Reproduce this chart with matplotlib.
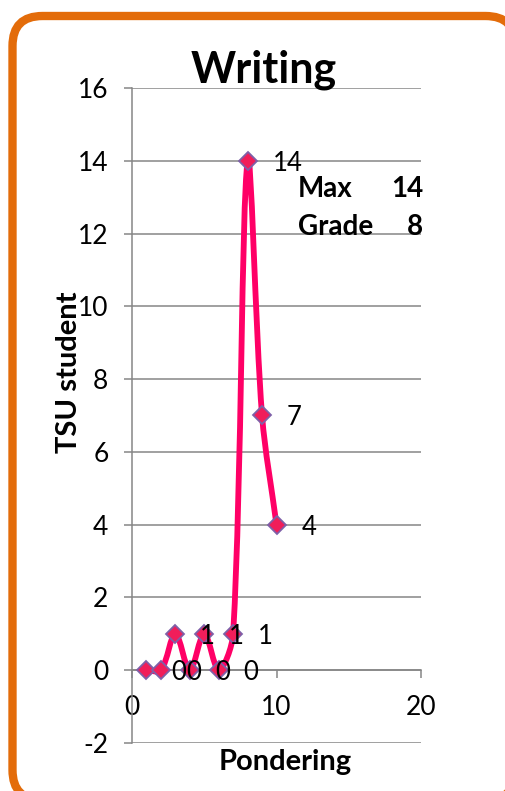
import numpy as np
import matplotlib
matplotlib.use("Agg")
import matplotlib.pyplot as plt
from matplotlib.path import Path
from matplotlib.patches import PathPatch, FancyBboxPatch

plt.rcParams["axes.unicode_minus"] = False

# Score counts per grade
grades = [1, 2, 3, 4, 5, 6, 7, 8, 9, 10]
students = [0, 0, 1, 0, 1, 0, 1, 14, 7, 4]
x_ticks = [0, 10, 20]
y_ticks = [-2, 0, 2, 4, 6, 8, 10, 12, 14, 16]
title = "Writing"
x_label = "Pondering"
y_label = "TSU student"
summary = [("Max", "14"), ("Grade", "8")]

W, H = 505, 791
fig = plt.figure(figsize=(W / 100, H / 100), dpi=100)
fig.patch.set_facecolor("white")

FONT = "Lato"
GRID = "#868686"
LINE = "#FF0066"
FILL = "#F01E5A"
EDGE = "#7E60A8"
ORANGE = "#E36C0A"

# Rounded orange frame drawn in pixel units on a background layer
bg = fig.add_axes([0, 0, 1, 1], zorder=0)
bg.set_xlim(0, W)
bg.set_ylim(H, 0)
bg.axis("off")
bg.add_patch(FancyBboxPatch((12.5, 16), 503, 784,
                            boxstyle="round,pad=0,rounding_size=30",
                            fc="white", ec=ORANGE, lw=6, clip_on=False))

L, R, T, B = 132, 421, 88, 743
ax = fig.add_axes([L / W, 1 - B / H, (R - L) / W, (B - T) / H], zorder=1)
ax.set_facecolor("none")
ax.set_xlim(0, 20)
ax.set_ylim(-2, 16)
ax.set_xticks(x_ticks)
ax.set_yticks(y_ticks)

for s in ("top", "right"):
    ax.spines[s].set_visible(False)
ax.spines["left"].set_position(("data", 0))
ax.spines["bottom"].set_position(("data", 0))
for s in ("left", "bottom"):
    ax.spines[s].set_color(GRID)
    ax.spines[s].set_linewidth(1.1)

ax.yaxis.grid(True, color=GRID, linewidth=1.1)
ax.set_axisbelow(True)
ax.tick_params(axis="y", direction="out", length=6, width=1.1, color=GRID,
               pad=11, labelsize=19, labelcolor="black")
ax.tick_params(axis="x", direction="out", length=6, width=1.1, color=GRID,
               pad=12, labelsize=19, labelcolor="black")
for lab in ax.get_xticklabels() + ax.get_yticklabels():
    lab.set_fontfamily(FONT)

# Smoothed line: cubic Bezier segments whose tangents are weighted by the
# on-screen lengths of the neighbouring segments (keeps short hops from
# overshooting next to long ones)
sx = (R - L) / 20.0
sy = (B - T) / 18.0
pts = np.column_stack([grades, students]).astype(float)
scr = pts * np.array([sx, sy])
n = len(pts)
seg = np.hypot(*np.diff(scr, axis=0).T)

def tangent(i, side):
    if i == 0:
        return (pts[1] - pts[0]) / 3.0
    if i == n - 1:
        return (pts[-1] - pts[-2]) / 3.0
    d_prev, d_next = seg[i - 1], seg[i]
    w = (d_next if side == "out" else d_prev) / (d_prev + d_next)
    return (pts[i + 1] - pts[i - 1]) * w / 3.0

verts = [tuple(pts[0])]
codes = [Path.MOVETO]
for i in range(n - 1):
    c1 = pts[i] + tangent(i, "out")
    c2 = pts[i + 1] - tangent(i + 1, "in")
    verts += [tuple(c1), tuple(c2), tuple(pts[i + 1])]
    codes += [Path.CURVE4] * 3
ax.add_patch(PathPatch(Path(verts, codes), fc="none", ec=LINE, lw=4.2,
                       capstyle="round", joinstyle="round", zorder=3))

ax.plot(grades, students, linestyle="none", marker="D", markersize=9.5,
        markerfacecolor=FILL, markeredgecolor=EDGE, markeredgewidth=1.3,
        zorder=4)

for gx, gy in zip(grades, students):
    ax.annotate(str(gy), (gx, gy), xytext=(18, 0), textcoords="offset points",
                ha="left", va="center_baseline", fontsize=18.5, family=FONT,
                color="black", zorder=5)

def fx(px):
    return px / W

def fy(py):
    return 1 - py / H

fig.text(fx(264), fy(82), title, ha="center", va="baseline", fontsize=31,
         fontweight="bold", family=FONT, zorder=6)
fig.text(fx(285), fy(770), x_label, ha="center", va="baseline", fontsize=21,
         fontweight="bold", family=FONT)
fig.text(fx(69), fy(372), y_label, ha="center", va="center", rotation=90,
         fontsize=21, fontweight="bold", family=FONT)

for (name, val), base in zip(summary, [197, 235]):
    fig.text(fx(298), fy(base), name, ha="left", va="baseline", fontsize=20,
             fontweight="bold", family=FONT, zorder=6)
    fig.text(fx(423), fy(base), val, ha="right", va="baseline", fontsize=20,
             fontweight="bold", family=FONT, zorder=6)

fig.savefig("out.png", dpi=100, facecolor="white")
